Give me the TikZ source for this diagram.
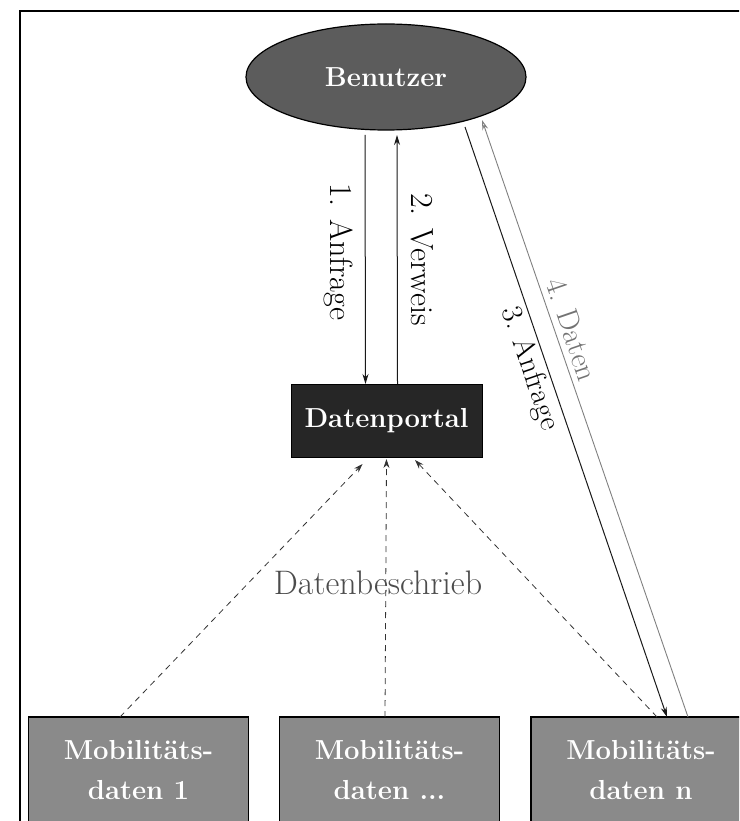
\documentclass[tikz,border=0pt]{standalone}
\usetikzlibrary{shapes.geometric,arrows.meta}
\begin{document}
\begin{tikzpicture}[x=1pt,y=-1pt,
  boldtext/.style={text=white,font=\fontsize{27.5}{40}\selectfont\bfseries},
  plaintext/.style={font=\fontsize{32}{36}\selectfont},
  slopetext/.style={font=\fontsize{30}{36}\selectfont},
  userblob/.style={ellipse,draw=black,line width=1.2pt,fill=black!64,
    minimum width=280pt,minimum height=106pt,inner sep=0pt,outer sep=0pt,boldtext},
  portalbox/.style={rectangle,draw=black,fill=black!85,minimum width=191pt,
    minimum height=73pt,inner sep=0pt,outer sep=0pt,boldtext},
  databox/.style={rectangle,draw=black,line width=1.2pt,fill=black!46,
    minimum width=220pt,minimum height=106pt,inner sep=0pt,outer sep=0pt,
    boldtext,align=center},
  flow/.style={draw=black!90,line width=1pt,-{Stealth[length=10pt,width=6pt]}},
  reply/.style={draw=black!50,line width=0.9pt,-{Stealth[length=10pt,width=6pt,open]}},
  meta/.style={draw=black!80,line width=0.8pt,dashed,dash pattern=on 6pt off 5pt,
    -{Stealth[length=9pt,width=6pt]}}]

\useasboundingbox (0,0) rectangle (739,821);
\clip (0,0) rectangle (739,821);

% outer frame
\draw[line width=2pt] (20,11) rectangle (780,860);

% nodes
\node[userblob] (benutzer) at (386,77) {Benutzer};
\node[portalbox] (portal) at (386.5,420.5) {Datenportal};
\node[databox] (box1) at (138.5,770) {Mobilitäts-\\daten 1};
\node[databox] (box2) at (389.5,770) {Mobilitäts-\\daten ...};
\node[databox] (box3) at (641,770) {Mobilitäts-\\daten n};

% request and referral between user and portal
\draw[flow] ([xshift=-21pt,yshift=-5pt]benutzer.south) -- ([xshift=-21pt]portal.north)
  node[pos=0.47,rotate=-90,anchor=north,inner sep=0pt,yshift=-12pt,plaintext] (l1) {1. Anfrage};
\draw[flow] ([xshift=11pt]portal.north) -- ([xshift=11pt,yshift=-5pt]benutzer.south)
  node[pos=0.5,rotate=-90,anchor=south,inner sep=0pt,yshift=13pt,plaintext] (l2) {2. Verweis};

% direct request and data delivery
\draw[flow] ([xshift=79pt,yshift=3pt]benutzer.south) -- ([xshift=26pt]box3.north)
  node[pos=0.40,sloped,below=3pt,inner sep=0pt,slopetext] (l3) {3. Anfrage};
\draw[reply] ([xshift=47pt]box3.north) -- ([xshift=96pt,yshift=10pt]benutzer.south)
  node[pos=0.64,sloped,above=6pt,inner sep=0pt,slopetext,text=black!55] (l4) {4. Daten};

% data descriptions sent to the portal
\draw[meta] ([xshift=-18.5pt]box1.north) -- ([xshift=-24pt,yshift=-7pt]portal.south);
\draw[meta] ([xshift=-4.5pt]box2.north) -- ([yshift=-2pt]portal.south);
\draw[meta] ([xshift=16pt]box3.north) -- ([xshift=28.5pt,yshift=-3pt]portal.south);
\node[font=\fontsize{34}{36}\selectfont,text=black!70] (desc) at (378,583) {Datenbeschrieb};

\end{tikzpicture}
\end{document}
